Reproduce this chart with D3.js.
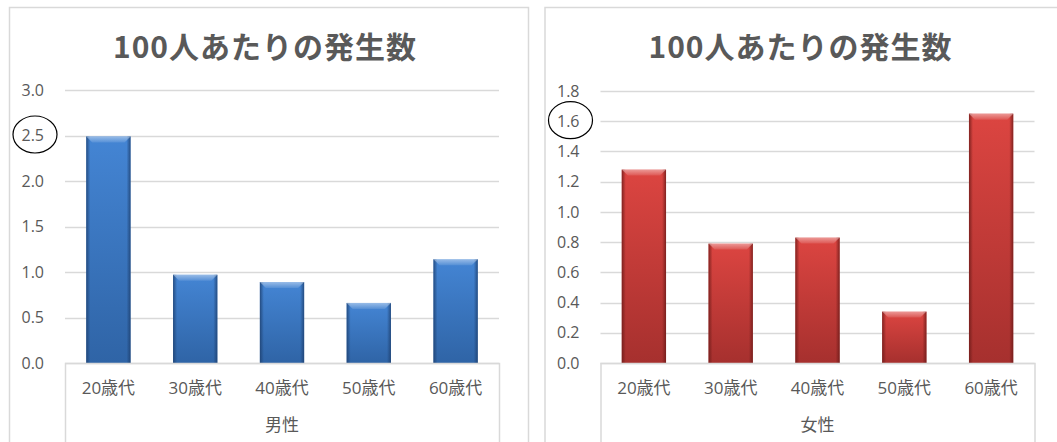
<!DOCTYPE html>
<html>
<head>
<meta charset="utf-8">
<script src="https://cdn.jsdelivr.net/npm/d3@7"></script>
<style>
  body { margin: 0; background: #fff; }
  text { fill: #595959; }
</style>
</head>
<body>
<div id="chart"></div>
<script>
// data
var categories = ["20歳代", "30歳代", "40歳代", "50歳代", "60歳代"];
var maleValues = [2.49, 0.97, 0.89, 0.66, 1.14];
var femaleValues = [1.28, 0.79, 0.83, 0.34, 1.65];
var maleTicks = [0, 0.5, 1.0, 1.5, 2.0, 2.5, 3.0];
var femaleTicks = [0, 0.2, 0.4, 0.6, 0.8, 1.0, 1.2, 1.4, 1.6, 1.8];
var titleText = "100人あたりの発生数";
var groupLabels = ["男性", "女性"];
var circledTicks = [2.5, 1.6];

var W = 1057, H = 442;

var svg = d3.select("#chart")
    .append("svg")
    .attr("width", W)
    .attr("height", H);

var defs = svg.append("defs");

// bar gradients (vertical body + darker side edges)
function addGradients(id, top, bottom, edge) {
    var g = defs.append("linearGradient").attr("id", id).attr("x1", 0).attr("y1", 0).attr("x2", 0).attr("y2", 1);
    g.append("stop").attr("offset", "0%").attr("stop-color", top);
    g.append("stop").attr("offset", "100%").attr("stop-color", bottom);
    var s = defs.append("linearGradient").attr("id", id + "-side").attr("x1", 0).attr("y1", 0).attr("x2", 1).attr("y2", 0);
    s.append("stop").attr("offset", "0%").attr("stop-color", edge).attr("stop-opacity", 0.8);
    s.append("stop").attr("offset", "9%").attr("stop-color", edge).attr("stop-opacity", 0);
    s.append("stop").attr("offset", "91%").attr("stop-color", edge).attr("stop-opacity", 0);
    s.append("stop").attr("offset", "100%").attr("stop-color", edge).attr("stop-opacity", 0.8);
    var b = defs.append("linearGradient").attr("id", id + "-bevel").attr("x1", 0).attr("y1", 0).attr("x2", 0).attr("y2", 1);
    b.append("stop").attr("offset", "0%").attr("stop-color", "#fff").attr("stop-opacity", 0.45);
    b.append("stop").attr("offset", "100%").attr("stop-color", "#fff").attr("stop-opacity", 0.1);
}
addGradients("blue", "#4485d4", "#2f64a6", "#1d3f6e");
addGradients("red", "#dc4541", "#a6302e", "#6b1a18");

function drawPanel(opt) {
    var ox = opt.offset;
    var x = d3.scaleBand()
        .domain(categories)
        .range([ox + 65, ox + 499])
        .paddingInner(0.49)
        .paddingOuter(0.245);
    var y = d3.scaleLinear()
        .domain([0, opt.max])
        .range([363, opt.topY]);

    // chart frame
    svg.append("rect")
        .attr("x", ox + 9.5)
        .attr("y", 7.5)
        .attr("width", 519)
        .attr("height", H)
        .attr("fill", "none")
        .attr("stroke", "#d9d9d9")
        .attr("stroke-width", 1.5);

    // title
    svg.append("text")
        .attr("x", ox + 265)
        .attr("y", 58)
        .attr("text-anchor", "middle")
        .style("font-family", "'Noto Sans CJK JP', sans-serif")
        .style("font-weight", "bold")
        .style("font-size", "30px")
        .style("letter-spacing", "1px")
        .text(titleText);

    // gridlines
    svg.append("g")
        .selectAll("line")
        .data(opt.ticks)
        .join("line")
        .attr("x1", ox + 65)
        .attr("x2", ox + 499)
        .attr("y1", function (d) { return Math.round(y(d)) + 0.5; })
        .attr("y2", function (d) { return Math.round(y(d)) + 0.5; })
        .attr("stroke", "#d9d9d9")
        .attr("stroke-width", 1.5);

    // y axis labels
    var yAxis = d3.axisLeft(y)
        .tickValues(opt.ticks)
        .tickFormat(d3.format(".1f"))
        .tickSize(0)
        .tickPadding(21);
    var ya = svg.append("g")
        .attr("transform", "translate(" + (ox + 65) + ",0)")
        .call(yAxis);
    ya.select(".domain").remove();
    ya.selectAll("text")
        .style("font-family", "'Open Sans', sans-serif")
        .style("font-size", "16px")
        .attr("fill", "#595959");

    // circled tick (annotation in the original)
    svg.append("ellipse")
        .attr("cx", ox + 35)
        .attr("cy", y(opt.circled) - 1)
        .attr("rx", 22)
        .attr("ry", 18.5)
        .attr("fill", "none")
        .attr("stroke", "#000")
        .attr("stroke-width", 1.2);

    // bars
    var bars = svg.append("g").selectAll("g")
        .data(opt.values)
        .join("g");
    bars.append("rect")
        .attr("x", function (d, i) { return x(categories[i]); })
        .attr("y", function (d) { return y(d); })
        .attr("width", x.bandwidth())
        .attr("height", function (d) { return y(0) - y(d); })
        .attr("fill", "url(#" + opt.color + ")");
    bars.append("rect")
        .attr("x", function (d, i) { return x(categories[i]); })
        .attr("y", function (d) { return y(d); })
        .attr("width", x.bandwidth())
        .attr("height", function (d) { return y(0) - y(d); })
        .attr("fill", "url(#" + opt.color + "-side)");
    // top bevel
    bars.append("path")
        .attr("d", function (d, i) {
            var x0 = x(categories[i]), x1 = x0 + x.bandwidth(), t = y(d), b = 6;
            return "M" + x0 + "," + t + "L" + x1 + "," + t + "L" + (x1 - b) + "," + (t + b) + "L" + (x0 + b) + "," + (t + b) + "Z";
        })
        .attr("fill", "url(#" + opt.color + "-bevel)");

    // category axis box
    svg.append("path")
        .attr("d", "M" + (ox + 65.5) + "," + H + "V363.5H" + (ox + 499.5) + "V" + H)
        .attr("fill", "none")
        .attr("stroke", "#d9d9d9")
        .attr("stroke-width", 1.5);

    var xAxis = d3.axisBottom(x).tickSize(0).tickPadding(0);
    var xa = svg.append("g")
        .attr("transform", "translate(0,394)")
        .call(xAxis);
    xa.select(".domain").remove();
    xa.selectAll("text")
        .attr("dy", 0)
        .style("font-family", "'Open Sans', 'Noto Sans CJK JP', sans-serif")
        .style("font-size", "17px")
        .attr("fill", "#595959");

    svg.append("text")
        .attr("x", ox + 282)
        .attr("y", 431)
        .attr("text-anchor", "middle")
        .style("font-family", "'Noto Sans CJK JP', sans-serif")
        .style("font-size", "17px")
        .text(opt.group);
}

drawPanel({ offset: 0, values: maleValues, ticks: maleTicks, max: 3.0, topY: 90, color: "blue", group: groupLabels[0], circled: circledTicks[0] });
drawPanel({ offset: 535.5, values: femaleValues, ticks: femaleTicks, max: 1.8, topY: 91, color: "red", group: groupLabels[1], circled: circledTicks[1] });
</script>
</body>
</html>
